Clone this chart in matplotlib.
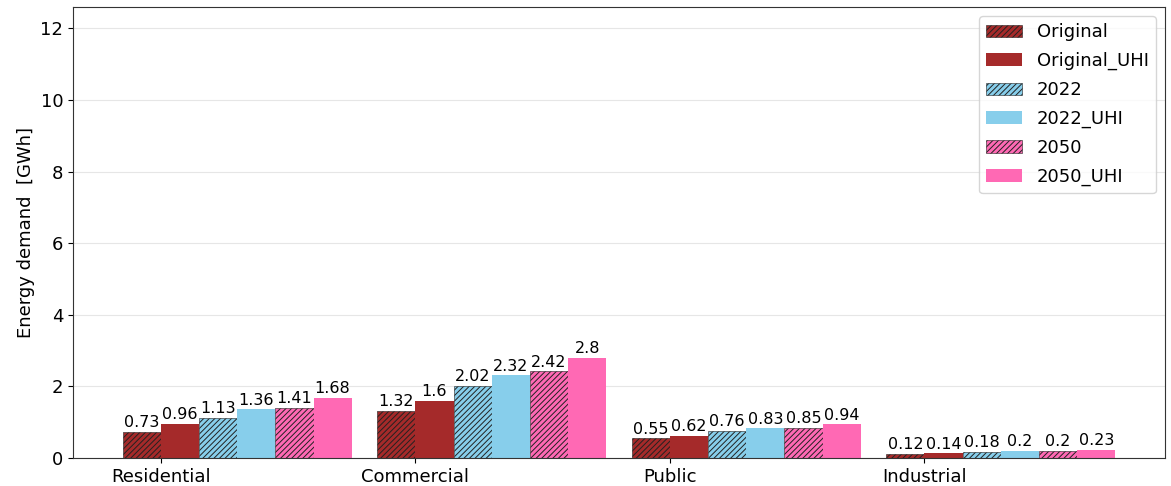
import numpy as np
import matplotlib
matplotlib.use('Agg')
import matplotlib.pyplot as plt

# sectors on the x axis
sectors = ['Residential', 'Commercial', 'Public', 'Industrial']

# energy demand per scenario [GWh]
original = [0.73, 1.32, 0.55, 0.12]
original_uhi = [0.96, 1.6, 0.62, 0.14]
y2022 = [1.13, 2.02, 0.76, 0.18]
y2022_uhi = [1.36, 2.32, 0.83, 0.2]
y2050 = [1.41, 2.42, 0.85, 0.2]
y2050_uhi = [1.68, 2.8, 0.94, 0.23]

series = [
    ('Original', original, 'brown', '//////'),
    ('Original_UHI', original_uhi, 'brown', None),
    ('2022', y2022, 'skyblue', '//////'),
    ('2022_UHI', y2022_uhi, 'skyblue', None),
    ('2050', y2050, 'hotpink', '//////'),
    ('2050_UHI', y2050_uhi, 'hotpink', None),
]

plt.rcParams['hatch.linewidth'] = 0.7

fig = plt.figure(figsize=(11.71, 4.86), dpi=100)
ax = fig.add_axes([0.0623, 0.0576, 0.9326, 0.928])

x = np.arange(len(sectors))
width = 0.15

for i, (label, vals, color, hatch) in enumerate(series):
    # bars drawn from the left edge, tick sits on the edge of the second bar
    if hatch:
        bars = ax.bar(x + (i - 1) * width, vals, width, align='edge', facecolor=color,
                      hatch=hatch, edgecolor='#222222', linewidth=0.4, label=label)
    else:
        bars = ax.bar(x + (i - 1) * width, vals, width, align='edge', color=color,
                      linewidth=0, label=label)
    ax.bar_label(bars, labels=[str(v) for v in vals], fontsize=11.5, padding=1)

ax.set_xticks(x)
ax.set_xticklabels(sectors, fontsize=13)
ax.tick_params(axis='y', labelsize=13)
ax.set_ylim(0, 12.6)
ax.set_yticks([0, 2, 4, 6, 8, 10, 12])
ax.set_ylabel('Energy demand  [GWh]', fontsize=13)
ax.yaxis.grid(True, color='#e6e6e6', linewidth=0.8)
ax.set_axisbelow(True)
for s in ax.spines.values():
    s.set_color('#333333')

ax.legend(loc='upper right', fontsize=13, handlelength=2.0, labelspacing=0.6)

fig.savefig('out.png', dpi=100)
